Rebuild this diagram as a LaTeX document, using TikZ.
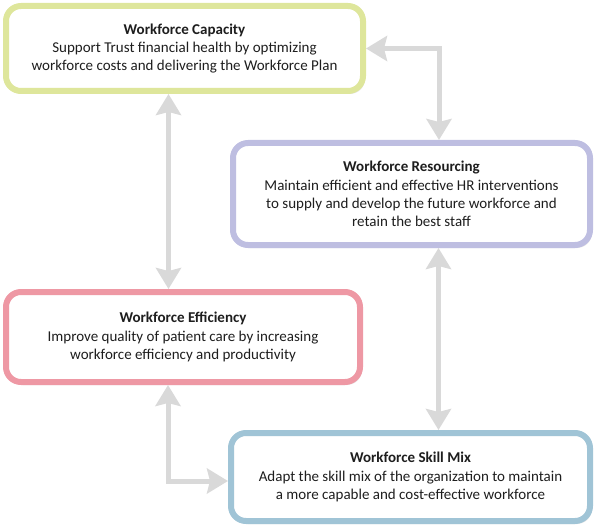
\documentclass[tikz,border=0pt]{standalone}
\usepackage{fontspec}
\setmainfont{Carlito}
\usetikzlibrary{arrows.meta,shadows}
\definecolor{capcol}{RGB}{222,230,155}
\definecolor{rescol}{RGB}{190,190,225}
\definecolor{effcol}{RGB}{238,152,164}
\definecolor{mixcol}{RGB}{160,196,214}
\definecolor{linkgray}{RGB}{217,217,217}
\definecolor{txt}{RGB}{30,30,30}
\tikzset{
  goal/.style={draw=#1, line width=6pt, fill=white, rounded corners=15pt,
    align=center, text=txt, font=\fontsize{15}{18.2}\selectfont,
    drop shadow={shadow xshift=2pt, shadow yshift=-3pt, opacity=0.18}},
  link/.style={draw=linkgray, line width=5pt,
    {Stealth[length=21pt,width=25pt,inset=3pt]}-{Stealth[length=21pt,width=25pt,inset=3pt]}}
}
\begin{document}
\begin{tikzpicture}[x=1pt,y=-1pt]
  \useasboundingbox (0,0) rectangle (600,532);
  \node (cap) [goal=capcol, minimum width=357pt, minimum height=85pt] at (184.5,48.5)
    {\textbf{Workforce Capacity}\\Support Trust financial health by optimizing\\workforce costs and delivering the Workforce Plan};
  \node (res) [goal=rescol, minimum width=357pt, minimum height=102pt] at (411.5,194)
    {\textbf{Workforce Resourcing}\\Maintain efficient and effective HR interventions\\to supply and develop the future workforce and\\retain the best staff};
  \node (eff) [goal=effcol, minimum width=354pt, minimum height=90pt] at (183,337)
    {\textbf{Workforce Efficiency}\\Improve quality of patient care by increasing\\workforce efficiency and productivity};
  \node (mix) [goal=mixcol, minimum width=359pt, minimum height=88pt] at (410.5,477)
    {\textbf{Workforce Skill Mix}\\Adapt the skill mix of the organization to maintain\\a more capable and cost-effective workforce};
  \path[link] (cap.east) -| ([xshift=27.5pt]res.north);
  \path[link] ([xshift=-16pt]cap.south) -- ([xshift=-16pt]cap.south |- eff.north);
  \path[link] ([xshift=27pt]res.south) -- ([xshift=27pt]res.south |- mix.north);
  \path[link] ([xshift=-15pt]eff.south) |- ([yshift=-4pt]mix.west);
\end{tikzpicture}
\end{document}
